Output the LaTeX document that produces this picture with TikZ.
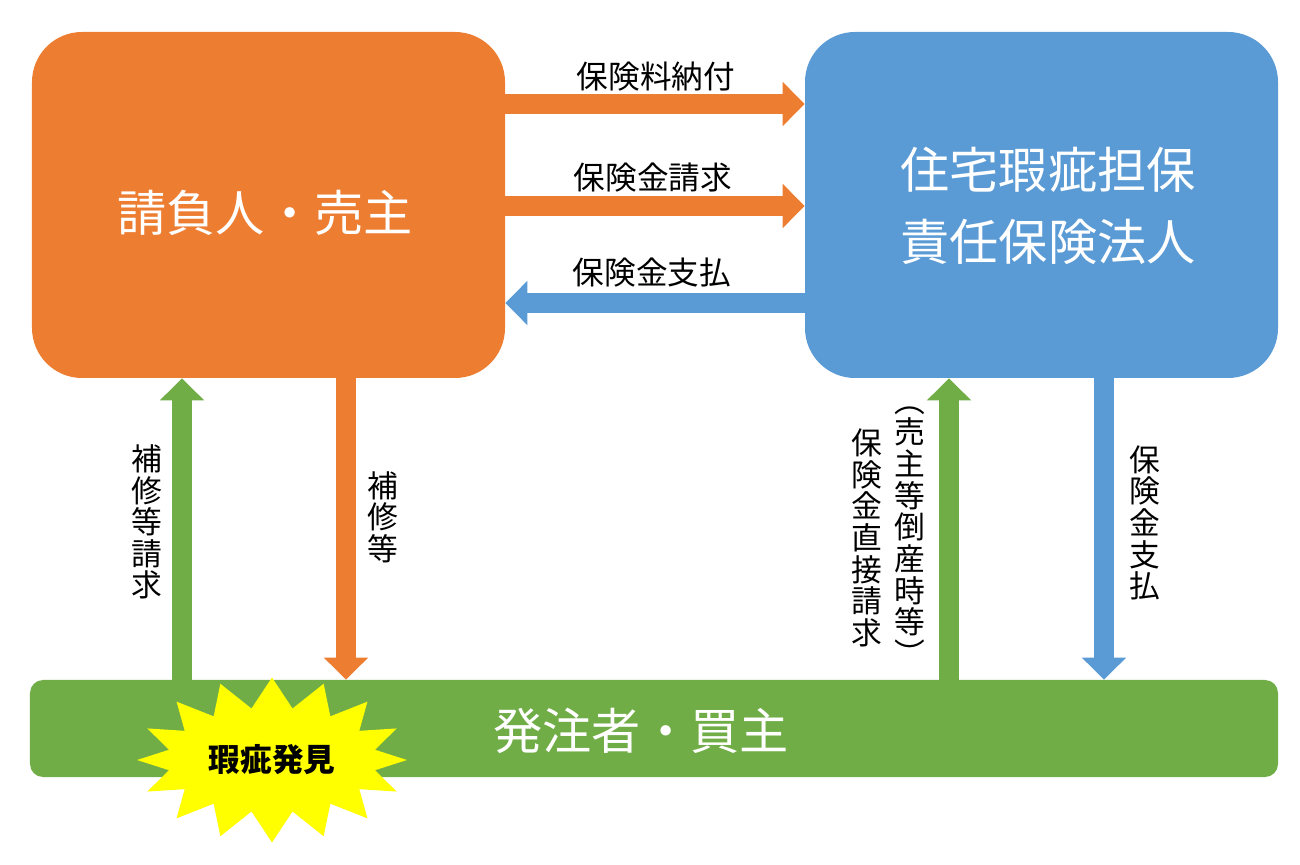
\documentclass[tikz,border=0pt]{standalone}
\usepackage{fontspec}
\setmainfont{Noto Sans CJK JP}
\usetikzlibrary{arrows.meta,positioning,shapes.symbols}
\definecolor{seller}{HTML}{ED7D31}
\definecolor{insurer}{HTML}{5B9BD5}
\definecolor{buyer}{HTML}{70AD47}
\definecolor{flash}{HTML}{FFFF00}

\begin{document}
\begin{tikzpicture}[
  party/.style={rounded corners=1cm, minimum width=9.46cm, minimum height=6.92cm, align=center,
    text=white, font=\fontsize{28}{41}\selectfont},
  flow/.style={line width=.4cm, -{Triangle[length=.44cm, width=.86cm]}},
  lab/.style={font=\fontsize{18}{18}\selectfont, inner sep=0pt},
  vlab/.style={font=\fontsize{17.5}{18}\selectfont, align=center, inner sep=0pt}]
  \useasboundingbox (0,0) rectangle (26,-17.3);
  \node[party, fill=seller] (contractor) at (5.37,-4.1) {};
  \node[party, fill=insurer] (insurer) at (20.83,-4.1) {};
  \node[text=white, font=\fontsize{28}{41}\selectfont] at (5.3,-4.26) {請負人・売主};
  \node[text=white, font=\fontsize{28}{41}\selectfont, align=center] at (20.96,-4.12) {住宅瑕疵担保\\責任保険法人};
  \node[fill=buyer, rounded corners=.26cm, minimum width=24.96cm, minimum height=1.94cm] (buyer) at (13.08,-14.57) {};
  \node[text=white, font=\fontsize{28}{41}\selectfont] at (12.82,-14.62) {発注者・買主};
  % premiums and claims
  \draw[flow, seller] (contractor.east |- 0,-2.08) -- (insurer.west |- 0,-2.08);
  \draw[flow, seller] (contractor.east |- 0,-4.12) -- (insurer.west |- 0,-4.12);
  \draw[flow, insurer] (insurer.west |- 0,-6.06) -- (contractor.east |- 0,-6.06);
  \node[lab] at (13.12,-1.54) {保険料納付};
  \node[lab] at (13.06,-3.56) {保険金請求};
  \node[lab] at (13.04,-5.46) {保険金支払};
  % left side
  \draw[flow, buyer] (buyer.north -| 3.64,0) -- (contractor.south -| 3.64,0);
  \draw[flow, seller] (contractor.south -| 6.92,0) -- (buyer.north -| 6.92,0);
  \node[vlab] at (2.94,-10.44) {補\\修\\等\\請\\求};
  \node[vlab] at (7.66,-10.34) {補\\修\\等};
  % right side
  \draw[flow, buyer] (buyer.north -| 18.98,0) -- (insurer.south -| 18.98,0);
  \draw[flow, insurer] (insurer.south -| 22.08,0) -- (buyer.north -| 22.08,0);
  \node[vlab] at (18.2,-10.72) {︵\\売\\主\\等\\倒\\産\\時\\等\\︶};
  \node[vlab] at (17.34,-10.76) {保\\険\\金\\直\\接\\請\\求};
  \node[vlab] at (22.9,-10.46) {保\\険\\金\\支\\払};
  % defect found
  \node[starburst, fill=flash, random starburst=0, starburst points=16, starburst point height=.6cm,
    minimum width=5.4cm, minimum height=3.3cm, inner sep=0pt, font=\bfseries\fontsize{18}{18}\selectfont]
    (defect) at (5.44,-15.2) {瑕疵発見};
\end{tikzpicture}
\end{document}
